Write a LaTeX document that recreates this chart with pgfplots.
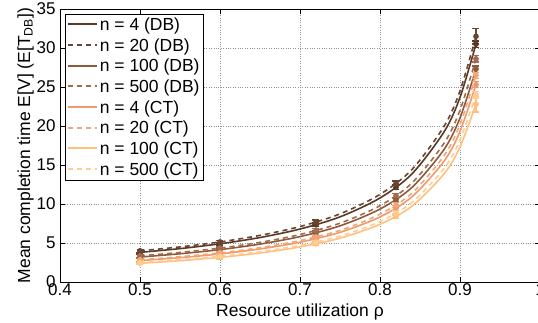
\documentclass[border=0pt]{standalone}
\usepackage{pgfplots}
\pgfplotsset{compat=1.18}
\usepackage{fontspec}
\setmainfont{Liberation Sans}
\definecolor{c1}{HTML}{5A3A26}
\definecolor{c2}{HTML}{6A4632}
\definecolor{c3}{HTML}{8E5A3C}
\definecolor{c4}{HTML}{A06C52}
\definecolor{c5}{HTML}{EE9A70}
\definecolor{c6}{HTML}{F2A676}
\definecolor{c7}{HTML}{FFC07E}
\definecolor{c8}{HTML}{FFCC92}
\begin{document}
\begin{tikzpicture}
\begin{axis}[
  scale only axis, width=480pt, height=273pt,
  xmin=0.4, xmax=1.0, ymin=0, ymax=35,
  xtick={0.4,0.5,0.6,0.7,0.8,0.9,1.0},
  ytick={0,5,10,15,20,25,30,35},
  xticklabels={0.4,0.5,0.6,0.7,0.8,0.9,1},
  /pgf/number format/assume math mode=true,
  tick label style={font=\fontsize{17}{19}\selectfont},
  xticklabel style={yshift=2pt},
  yticklabel style={xshift=-1pt},
  label style={font=\fontsize{17.5}{19}\selectfont},
  xlabel={Resource utilization ρ},
  ylabel={Mean completion time E[V] (E[T\textsubscript{DB}])},
  xlabel style={yshift=-1pt},
  ylabel style={yshift=-4pt},
  grid=major,
  grid style={dotted, gray!85, line width=0.6pt},
  tick align=inside, major tick length=5pt,
  tick style={black, line width=0.6pt},
  axis line style={line width=0.7pt},
  legend style={at={(rel axis cs:0.0104,0.982)}, anchor=north west,
    font=\fontsize{17.5}{20}\selectfont, draw=black, line width=0.7pt,
    inner sep=1.5pt, row sep=2.5pt},
  legend cell align=left,
  legend image code/.code={\draw[#1, line width=2pt] (0pt,0.5pt) -- (29pt,0.5pt);},
  every axis plot/.append style={line width=1.6pt},
]
\addplot[c1, smooth] coordinates {(0.5,3.80)(0.55,4.28)(0.6,4.90)(0.65,5.70)(0.7,6.79)(0.75,8.35)(0.8,10.77)(0.84,13.87)(0.88,19.24)(0.9,23.67)(0.92,30.5)};
\addlegendentry{n = 4 (DB)}
\addplot[c2, smooth, dash pattern=on 5pt off 4pt] coordinates {(0.5,4.00)(0.55,4.50)(0.6,5.14)(0.65,5.98)(0.7,7.11)(0.75,8.73)(0.8,11.23)(0.84,14.43)(0.88,19.95)(0.9,24.50)(0.92,31.5)};
\addlegendentry{n = 20 (DB)}
\addplot[c3, smooth] coordinates {(0.5,3.20)(0.55,3.62)(0.6,4.15)(0.65,4.86)(0.7,5.82)(0.75,7.20)(0.8,9.35)(0.84,12.13)(0.88,16.99)(0.9,21.03)(0.92,27.3)};
\addlegendentry{n = 100 (DB)}
\addplot[c4, smooth, dash pattern=on 5pt off 4pt] coordinates {(0.5,3.35)(0.55,3.79)(0.6,4.35)(0.65,5.08)(0.7,6.09)(0.75,7.54)(0.8,9.78)(0.84,12.70)(0.88,17.79)(0.9,22.02)(0.92,28.6)};
\addlegendentry{n = 500 (DB)}
\addplot[c5, smooth] coordinates {(0.5,2.75)(0.55,3.12)(0.6,3.60)(0.65,4.24)(0.7,5.10)(0.75,6.37)(0.8,8.34)(0.84,10.93)(0.88,15.48)(0.9,19.31)(0.92,25.3)};
\addlegendentry{n = 4 (CT)}
\addplot[c6, smooth, dash pattern=on 5pt off 4pt] coordinates {(0.5,2.85)(0.55,3.24)(0.6,3.74)(0.65,4.40)(0.7,5.31)(0.75,6.62)(0.8,8.69)(0.84,11.40)(0.88,16.18)(0.9,20.20)(0.92,26.5)};
\addlegendentry{n = 20 (CT)}
\addplot[c7, smooth] coordinates {(0.5,2.40)(0.55,2.73)(0.6,3.16)(0.65,3.72)(0.7,4.50)(0.75,5.62)(0.8,7.40)(0.84,9.73)(0.88,13.86)(0.9,17.33)(0.92,22.8)};
\addlegendentry{n = 100 (CT)}
\addplot[c8, smooth, dash pattern=on 5pt off 4pt] coordinates {(0.5,2.50)(0.55,2.85)(0.6,3.29)(0.65,3.88)(0.7,4.70)(0.75,5.88)(0.8,7.75)(0.84,10.20)(0.88,14.55)(0.9,18.22)(0.92,24.0)};
\addlegendentry{n = 500 (CT)}
% error bars at measured points
\pgfplotsset{errs/.style={forget plot, color=#1, only marks, mark=none,
  error bars/.cd, y dir=both, y explicit,
  error bar style={line width=1.3pt, color=#1, solid},
  error mark=-,
  error mark options={line width=1.3pt, color=#1, solid, mark size=3.5pt, rotate=90}}}
\addplot[errs=c1] coordinates {(0.5,3.80)+-(0,0.2) (0.6,4.90)+-(0,0.2) (0.72,7.34)+-(0,0.25) (0.82,12.13)+-(0,0.3) (0.92,30.5)+-(0,0.4)};
\addplot[errs=c2] coordinates {(0.5,4.00)+-(0,0.2) (0.6,5.14)+-(0,0.2) (0.72,7.68)+-(0,0.25) (0.82,12.64)+-(0,0.3) (0.92,31.5)+-(0,1.0)};
\addplot[errs=c3] coordinates {(0.5,3.20)+-(0,0.2) (0.6,4.15)+-(0,0.2) (0.72,6.31)+-(0,0.25) (0.82,10.57)+-(0,0.3) (0.92,27.3)+-(0,0.4)};
\addplot[errs=c4] coordinates {(0.5,3.35)+-(0,0.2) (0.6,4.35)+-(0,0.2) (0.72,6.61)+-(0,0.25) (0.82,11.07)+-(0,0.3) (0.92,28.6)+-(0,0.4)};
\addplot[errs=c5] coordinates {(0.5,2.75)+-(0,0.2) (0.6,3.60)+-(0,0.2) (0.72,5.55)+-(0,0.25) (0.82,9.48)+-(0,0.3) (0.92,25.3)+-(0,0.4)};
\addplot[errs=c6] coordinates {(0.5,2.85)+-(0,0.2) (0.6,3.74)+-(0,0.2) (0.72,5.77)+-(0,0.25) (0.82,9.88)+-(0,0.3) (0.92,26.5)+-(0,0.4)};
\addplot[errs=c7] coordinates {(0.5,2.40)+-(0,0.2) (0.6,3.16)+-(0,0.2) (0.72,4.89)+-(0,0.25) (0.82,8.42)+-(0,0.3) (0.92,22.8)+-(0,1.0)};
\addplot[errs=c8] coordinates {(0.5,2.50)+-(0,0.2) (0.6,3.29)+-(0,0.2) (0.72,5.11)+-(0,0.25) (0.82,8.82)+-(0,0.3) (0.92,24.0)+-(0,0.4)};
\end{axis}
\pgfresetboundingbox
\path[use as bounding box] (-60pt,-40pt) rectangle (478pt,282pt);
\end{tikzpicture}
\end{document}
